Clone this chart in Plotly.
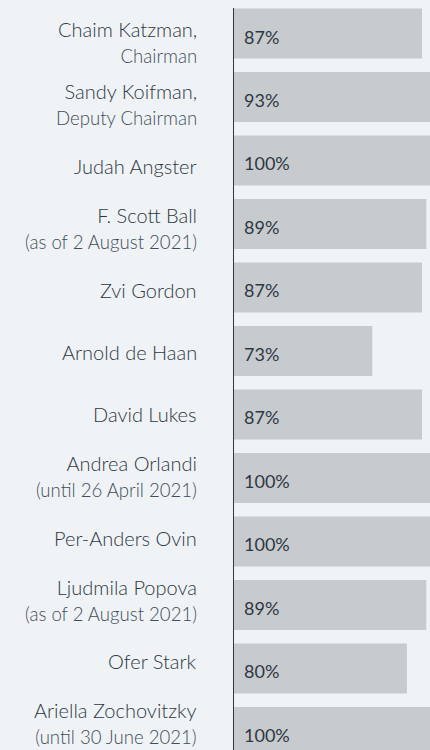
import plotly.graph_objects as go

names = ["Chaim Katzman,", "Sandy Koifman,", "Judah Angster", "F. Scott Ball", "Zvi Gordon",
         "Arnold de Haan", "David Lukes", "Andrea Orlandi", "Per-Anders Ovin", "Ljudmila Popova",
         "Ofer Stark", "Ariella Zochovitzky"]
subtitles = ["Chairman", "Deputy Chairman", "", "(as of 2 August 2021)", "", "", "",
             "(until 26 April 2021)", "", "(as of 2 August 2021)", "", "(until 30 June 2021)"]
bar_values = [87, 93, 100, 89, 87, 64, 87, 100, 100, 89, 80, 100]
value_labels = ["87%", "93%", "100%", "89%", "87%", "73%", "87%", "100%", "100%", "89%", "80%", "100%"]

BG = "#eff3f6"
BAR = "#c8cbce"
TEXT = "#2e3843"
SUB = "#434d58"
FONT = "Lato"

idx = list(range(len(names)))

fig = go.Figure()
fig.add_trace(go.Bar(
    x=bar_values, y=idx, orientation="h",
    marker=dict(color=BAR, line=dict(width=0)),
    width=0.787, hoverinfo="skip",
))
fig.add_trace(go.Scatter(x=[0] * len(idx), y=idx, yaxis="y2", mode="markers",
                         marker=dict(opacity=0), hoverinfo="skip", showlegend=False))

annotations = []
for i, (n, s, lab) in enumerate(zip(names, subtitles, value_labels)):
    if s:
        txt = (n + "<br><span style='font-weight:300;font-size:18.6px;fill:%s'>" % SUB
               + s + "</span>")
    else:
        txt = n
    annotations.append(dict(
        text=txt, xref="paper", x=0, xanchor="right", xshift=-35,
        yref="y2", y=i, yanchor="middle", align="right", showarrow=False,
        font=dict(family=FONT, size=20, color=TEXT, weight=300),
    ))
    annotations.append(dict(
        text=lab, xref="x", x=0, xanchor="left", xshift=8,
        yref="y", y=i, yanchor="middle", yshift=-3, showarrow=False,
        font=dict(family=FONT, size=18, color=TEXT),
    ))

fig.update_layout(
    width=430, height=750,
    margin=dict(l=234, r=0, t=8, b=0),
    paper_bgcolor=BG, plot_bgcolor=BG,
    showlegend=False,
    xaxis=dict(range=[0, 90.7], visible=False, fixedrange=True),
    yaxis=dict(range=[11.285, -0.4016], showticklabels=False, showgrid=False, zeroline=False,
               showline=True, linecolor="#2e3843", linewidth=1.2, ticks="", fixedrange=True),
    yaxis2=dict(range=[11.43, -0.557], overlaying="y", visible=False, fixedrange=True),
    annotations=annotations,
    font=dict(family=FONT, color=TEXT),
)

fig.write_html("out.html", config={"displayModeBar": False},
               post_script="document.body.style.margin='0';document.body.style.background='%s';" % BG)
